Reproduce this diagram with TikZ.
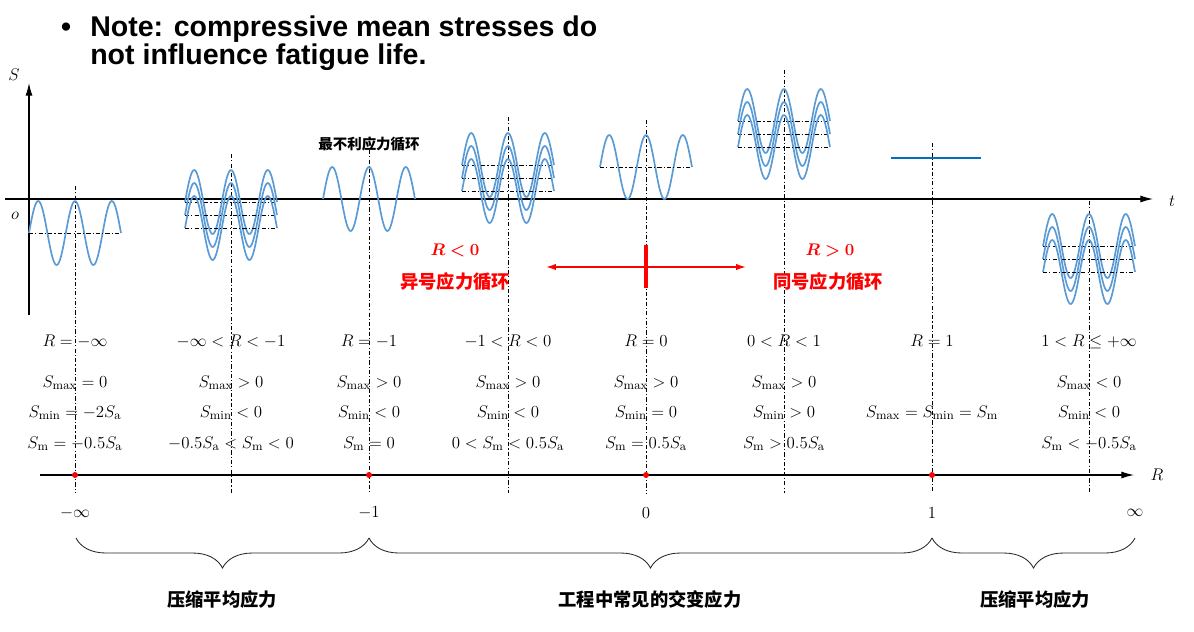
\documentclass[tikz,border=0pt]{standalone}
\usepackage{fontspec}
\usepackage{bm}
\newfontfamily\notefont{Liberation Sans}
\newfontfamily\cjk{Noto Sans CJK SC}
\usetikzlibrary{arrows.meta,decorations.pathreplacing}
\definecolor{waveblue}{RGB}{91,155,213}
\definecolor{flatblue}{RGB}{0,112,192}
\definecolor{markred}{RGB}{255,0,0}

\begin{document}
\begin{tikzpicture}[
    x={(0.025cm,0)}, y={(0,-0.025cm)},
    every node/.style={font=\fontsize{12.5}{15}\selectfont, inner sep=0pt},
    sig/.style={waveblue, line width=1.2pt},
    flat/.style={flatblue, line width=1.2pt},
    meanline/.style={black, line width=0.5pt, dash pattern=on 3pt off 1.5pt on 0.8pt off 1.5pt},
    guide/.style={black, line width=0.5pt, dash pattern=on 3pt off 1.5pt on 0.8pt off 1.5pt},
    axis/.style={black, line width=0.8pt, -{Latex[length=9pt,width=5pt]}},
    rowtext/.style={anchor=base},
    notetext/.style={anchor=base west, font=\notefont\bfseries\fontsize{20.3}{24}\selectfont},
    cjklabel/.style={font=\cjk\bfseries\fontsize{13}{15}\selectfont},
    redlabel/.style={text=markred},
    rbrace/.style={decorate, decoration={brace, mirror, amplitude=0.75cm}, line width=0.6pt, black!85},
]

\useasboundingbox (0,0) rectangle (1194,631);

% Wave constants (pixels)
\def\amp{32}
\def\per{36.8}
\pgfmathsetmacro{\freq}{360/\per}
\def\len{92}
\def\gap{13}
\def\rbot{493}

% --- Note ---
\node[notetext, anchor=base] (bullet) at (66,36) {\textbullet};
\node[notetext] (note1) at (90,36) {Note: compressive mean stresses do};
\node[notetext] (note2) at (90,64) {not influence fatigue life.};

% --- Axes ---
\coordinate (Sbot) at (29,315);
\coordinate (Stop) at (29,83);
\coordinate (tL) at (5,199);
\coordinate (tR) at (1153,199);
\draw[axis] (Sbot) -- (Stop);
\draw[axis] (tL) -- (tR);
\node (Slab) at (14,75) {$S$};
\node (olab) at (15,216) {$o$};
\node (tlab) at (1172,201) {$t$};

% --- Vertical guides ---
\foreach \gx/\gtop in {75/186, 231/154, 369/150, 508/117, 646/120, 784/70, 932/143, 1089/201}
    \draw[guide] (\gx,\gtop) -- (\gx,\rbot);

% --- Single waves ---
\foreach \wx/\wm in {29/233, 323/199, 600/167}
    \draw[sig] plot[domain=0:\len, samples=90, smooth] ({\wx+\x}, {\wm-\amp*sin(\x*\freq)});
\draw[meanline] (29,233) -- (121,233);
\draw[meanline] (600,167) -- (692,167);

% --- Shifted waves ---
\foreach \wx/\wm in {185/202, 462/165, 738/121, 1043/246}
    \foreach \k in {0,1,2} {
        \draw[sig] plot[domain=0:\len, samples=90, smooth] ({\wx+\x}, {\wm+\k*\gap-\amp*sin(\x*\freq)});
        \draw[meanline] (\wx,\wm+\k*\gap) -- (\wx+\len,\wm+\k*\gap);
    }

% --- Constant stress ---
\draw[flat] (891,158) -- (981,158);

\node[cjklabel, font=\cjk\bfseries\fontsize{10.3}{12}\selectfont] (worst) at (369,144) {最不利应力循环};

% --- Sign of R ---
\coordinate (arL) at (546,267);
\coordinate (arR) at (746,267);
\coordinate (tkT) at (646,245);
\coordinate (tkB) at (646,288);
\draw[markred, line width=1pt, {Latex[length=7pt,width=4.5pt]}-{Latex[length=7pt,width=4.5pt]}] (arL) -- (arR);
\draw[markred, line width=2.4pt] (tkT) -- (tkB);
\node[redlabel] (Rneg) at (455,250) {$\bm{R<0}$};
\node[cjklabel, redlabel] (yihao) at (455,282) {异号应力循环};
\node[redlabel] (Rpos) at (830,250) {$\bm{R>0}$};
\node[cjklabel, redlabel] (tonghao) at (828,282) {同号应力循环};

% --- Conditions ---
\foreach \cx/\ra/\rb/\rc/\rd [count=\i] in {
    75/{$R=-\infty$}/{$S_{\max}=0$}/{$S_{\min}=-2S_{\mathrm{a}}$}/{$S_{\mathrm{m}}=-0.5S_{\mathrm{a}}$},
    231/{$-\infty<R<-1$}/{$S_{\max}>0$}/{$S_{\min}<0$}/{$-0.5S_{\mathrm{a}}<S_{\mathrm{m}}<0$},
    369/{$R=-1$}/{$S_{\max}>0$}/{$S_{\min}<0$}/{$S_{\mathrm{m}}=0$},
    508/{$-1<R<0$}/{$S_{\max}>0$}/{$S_{\min}<0$}/{$0<S_{\mathrm{m}}<0.5S_{\mathrm{a}}$},
    646/{$R=0$}/{$S_{\max}>0$}/{$S_{\min}=0$}/{$S_{\mathrm{m}}=0.5S_{\mathrm{a}}$},
    784/{$0<R<1$}/{$S_{\max}>0$}/{$S_{\min}>0$}/{$S_{\mathrm{m}}>0.5S_{\mathrm{a}}$},
    1089/{$1<R\leq+\infty$}/{$S_{\max}<0$}/{$S_{\min}<0$}/{$S_{\mathrm{m}}<-0.5S_{\mathrm{a}}$}} {
    \node[rowtext] (ratio\i) at (\cx,346) {\ra};
    \node[rowtext] (smax\i) at (\cx,387) {\rb};
    \node[rowtext] (smin\i) at (\cx,417) {\rc};
    \node[rowtext] (smean\i) at (\cx,448) {\rd};
}
\node[rowtext] (ratioone) at (932,346) {$R=1$};
\node[rowtext] (sconst) at (932,417) {$S_{\max}=S_{\min}=S_{\mathrm{m}}$};

% --- R axis ---
\coordinate (Ra) at (40,475);
\coordinate (Rb) at (1134,475);
\draw[axis] (Ra) -- (Rb);
\node (Rlab) at (1157,475) {$R$};
\foreach \px in {75, 369, 646, 932}
    \fill[markred] (\px,475) circle (3);
\node (minf) at (75,513) {$-\infty$};
\node (mone) at (369,513) {$-1$};
\node (zero) at (646,513) {$0$};
\node (one) at (932,513) {$1$};
\node (pinf) at (1135,513) {$\infty$};

% --- Braces ---
\draw[rbrace] (76,538) -- (369,538);
\draw[rbrace] (369,538) -- (932,538);
\draw[rbrace] (932,538) -- (1135,538);
\node[cjklabel] (left) at (222,600) {压缩平均应力};
\node[cjklabel] (mid) at (650,600) {工程中常见的交变应力};
\node[cjklabel] (right) at (1035,600) {压缩平均应力};

\end{tikzpicture}
\end{document}
